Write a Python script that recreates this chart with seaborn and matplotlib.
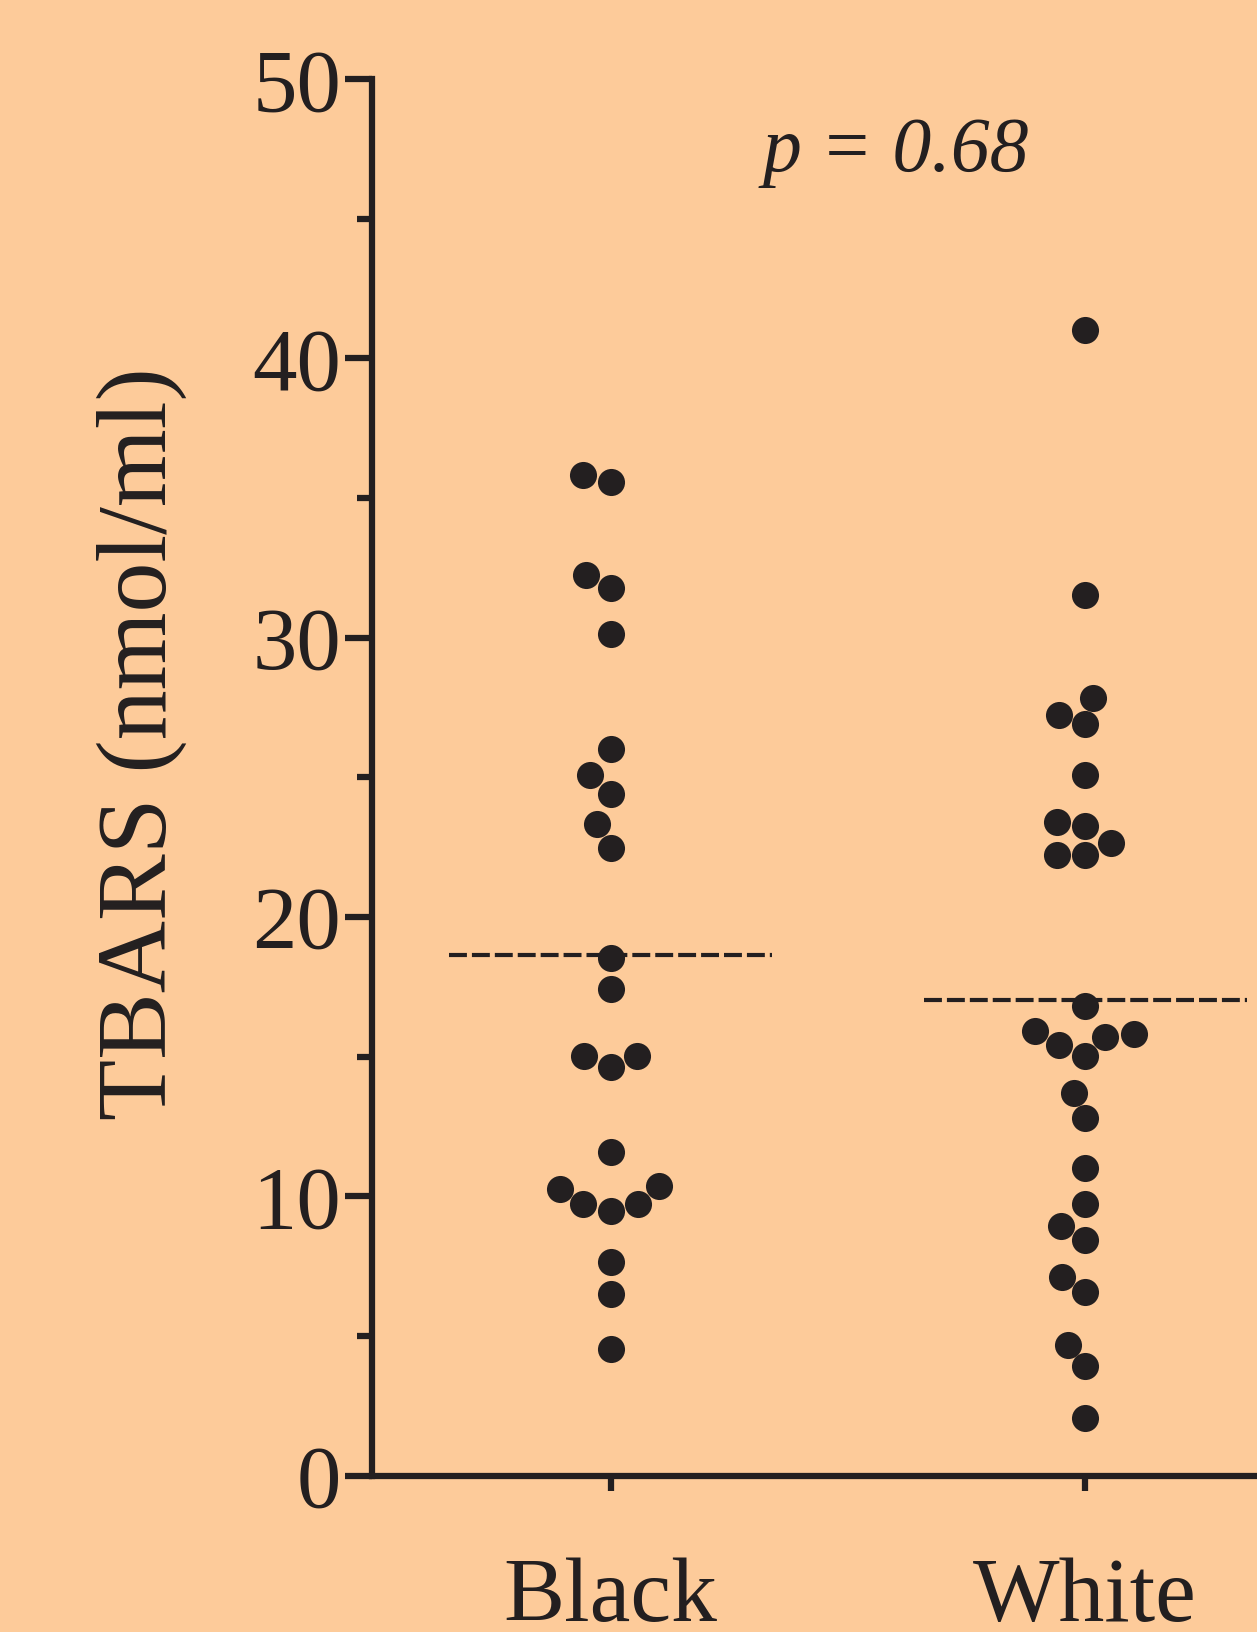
#TBARS by group - dot plot with means
import pandas as pd
import matplotlib
matplotlib.use("Agg")
import matplotlib.pyplot as plt
import seaborn as sns
from matplotlib.ticker import MultipleLocator

#Data
groups = ["Black", "White"]
black_vals = [35.84, 35.58, 31.78, 32.26, 30.14, 26.0, 25.07, 24.40, 23.32, 22.47,
              18.52, 17.44, 15.01, 15.01, 14.64, 11.59, 10.36, 10.28, 9.72, 9.72,
              9.46, 7.64, 6.52, 4.55]
white_vals = [41.02, 31.52, 27.24, 27.83, 26.90, 25.07, 23.25, 23.40, 22.21, 22.21,
              22.65, 16.80, 15.83, 15.42, 15.69, 15.91, 15.01, 13.71, 12.82, 11.03,
              9.72, 8.94, 8.42, 7.12, 6.56, 4.69, 3.91, 2.05]
p_text = "p = 0.68"

df = pd.DataFrame({
    "Group": ["Black"] * len(black_vals) + ["White"] * len(white_vals),
    "TBARS": black_vals + white_vals,
})

bg = "#FDCB9A"
ink = "#231F20"

sns.set_style("ticks")
plt.rcParams["font.family"] = ["Liberation Serif", "DejaVu Serif"]

fig = plt.figure(figsize=(12.57, 16.32), dpi=100, facecolor=bg)
ax = fig.add_axes([0.2963, 0.0958, 0.7037, 0.8557])
ax.set_facecolor(bg)

sns.swarmplot(data=df, x="Group", y="TBARS", order=groups, color=ink,
              size=19.5, linewidth=0, ax=ax)

#Mean lines
means = df.groupby("Group")["TBARS"].mean()
for i, g in enumerate(groups):
    ax.hlines(means[g], i - 0.34, i + 0.34, colors=ink, linestyles=(0, (4.3, 1.2)),
              linewidth=3.0, zorder=1)

ax.set_xlim(-0.502, 1.362)
ax.set_ylim(0, 50)
ax.yaxis.set_major_locator(MultipleLocator(10))
ax.yaxis.set_minor_locator(MultipleLocator(5))

for side in ["top", "right"]:
    ax.spines[side].set_visible(False)
for side in ["left", "bottom"]:
    ax.spines[side].set_linewidth(4.5)
    ax.spines[side].set_color(ink)

ax.tick_params(axis="y", which="major", length=19.5, width=4.5, color=ink,
               labelsize=64, labelcolor=ink, pad=3)
ax.tick_params(axis="y", which="minor", length=11, width=4.5, color=ink)
ax.tick_params(axis="x", length=11, width=4.5, color=ink,
               labelsize=66, labelcolor=ink, pad=48)

ax.set_xlabel("")
ax.set_ylabel("TBARS (nmol/ml)", fontsize=72, color=ink)
ax.yaxis.set_label_coords(-0.21, 0.524)

ax.text(0.6, 46.7, p_text, fontsize=56, fontstyle="italic", color=ink,
        ha="center", va="baseline")

plt.savefig("out.png", dpi=100, facecolor=bg)
